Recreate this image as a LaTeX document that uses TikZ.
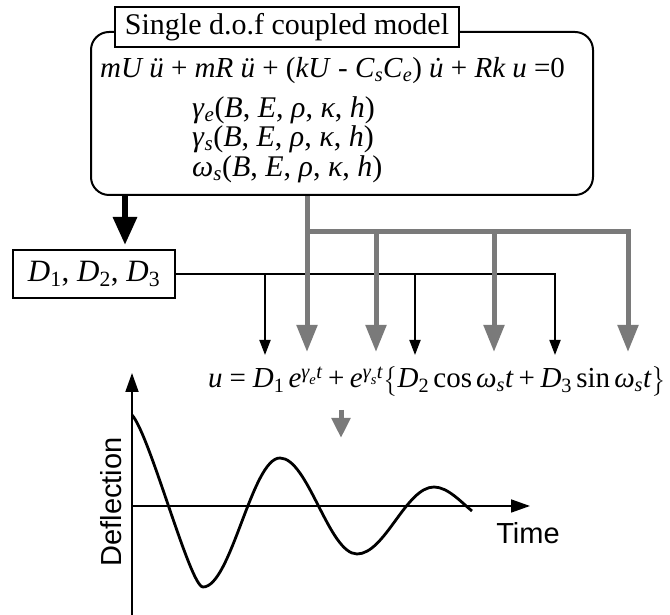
\documentclass[tikz,border=0pt]{standalone}
\usepackage{amsmath}
\usepackage{fontspec}
\setmainfont{Liberation Serif}
\setsansfont{Liberation Sans}
\usetikzlibrary{arrows.meta}
\newcommand{\mi}[1]{\text{\itshape #1}}
\newcommand{\mup}[1]{\text{\upshape #1}}
\newcommand{\sub}[1]{\textsubscript{\itshape #1}}
\begin{document}
\begin{tikzpicture}[x=1pt,y=1pt,
  box/.style={draw, line width=2pt, inner sep=0pt},
  txt/.style={anchor=base west, inner sep=0pt, font=\fontsize{29}{34}\selectfont},
  gtxt/.style={anchor=base west, inner sep=0pt, font=\fontsize{30}{34}\selectfont},
  blk/.style={line width=1.8pt, -{Triangle[length=15pt,width=11pt]}},
  bigarrow/.style={line width=6pt, -{Triangle[length=28pt,width=23pt]}},
  gry/.style={draw=black!52, line width=5pt},
  gryarrow/.style={gry, -{Triangle[length=27pt,width=20pt]}},
  smallgry/.style={gry, -{Triangle[length=20pt,width=18pt]}},
  axis/.style={line width=1.8pt, -{Triangle[length=19pt,width=13pt]}}]
\useasboundingbox (0,0) rectangle (670,615);

% model box and title
\node[box, rounded corners=18pt, minimum width=502pt, minimum height=163pt] (model) at (342,501.5) {};
\node[box, fill=white, minimum width=344pt, minimum height=40pt, font=\fontsize{30}{36}\selectfont] (title) at (287,588) {Single d.o.f coupled model};

\node[txt] (eq1) at (100,537) {\textit{mU ü} + \textit{mR ü} + (\textit{kU} - \textit{C}\sub{s}\textit{C}\sub{e}) {\itshape\accent"02D9 u} + \textit{Rk u} =0};
\node[gtxt] (ge) at (192,497) {\textit{γ}\sub{e}(\textit{B}, \textit{E}, \textit{ρ}, \textit{κ}, \textit{h})};
\node[gtxt] (gs) at (192,468) {\textit{γ}\sub{s}(\textit{B}, \textit{E}, \textit{ρ}, \textit{κ}, \textit{h})};
\node[gtxt] (ws) at (192,438) {\textit{ω}\sub{s}(\textit{B}, \textit{E}, \textit{ρ}, \textit{κ}, \textit{h})};

% D box
\node[box, minimum width=162pt, minimum height=48pt, font=\fontsize{31}{36}\selectfont] (dbox) at (94,341) {\textit{D}\textsubscript{1}, \textit{D}\textsubscript{2}, \textit{D}\textsubscript{3}};

% solution
\node[txt] (eq2) at (208,227) {$\mi{u}\mathrel{\mup{=}}\mi{D}_{\mup{1}}\,\mi{e}^{\mi{γ}_{\mi{e}}\mi{t}}\mathbin{\mup{+}}\mi{e}^{\mi{γ}_{\mi{s}}\mi{t}}\bigl\{\mi{D}_{\mup{2}}\,\mup{cos}\,\mi{ω}_{\mi{s}}\mi{t}\mathbin{\mup{+}}\mi{D}_{\mup{3}}\,\mup{sin}\,\mi{ω}_{\mi{s}}\mi{t}\bigr\}$};

% coordinates
\coordinate (kA) at (125,370);
\coordinate (b1) at (265,260);
\coordinate (b2) at (415,260);
\coordinate (b3) at (555,260);
\coordinate (g1) at (307,263);
\coordinate (g2) at (376,263);
\coordinate (g3) at (494,263);
\coordinate (g4) at (628,263);
\coordinate (gh) at (0,383);
\coordinate (s1) at (341,205);
\coordinate (s2) at (341,177);

% connectors
\draw[bigarrow] (model.south -| kA) -- (kA);
\draw[blk] (dbox.east) -- (dbox.east -| b3) -- (b3);
\draw[blk] (dbox.east -| b1) -- (b1);
\draw[blk] (dbox.east -| b2) -- (b2);
\draw[gryarrow] (model.south -| g1) -- (g1);
\draw[gryarrow] (g1 |- gh) -- (g4 |- gh) -- (g4);
\draw[gryarrow] (g2 |- gh) -- (g2);
\draw[gryarrow] (g3 |- gh) -- (g3);
\draw[smallgry] (s1) -- (s2);

% graph
\coordinate (ybot) at (132,0);
\coordinate (ytop) at (132,242);
\coordinate (O) at (132,109);
\coordinate (xend) at (530,109);
\draw[axis] (ybot) -- (ytop);
\draw[axis] (O) -- (xend);
\draw[line width=2.8pt] (132,200) .. controls (150,180) and (190,28) .. (203,28)
  .. controls (231,28) and (252,157) .. (280,157)
  .. controls (308,157) and (329,61) .. (357,61)
  .. controls (385,61) and (406,128) .. (434,128)
  .. controls (448,128) and (462,112) .. (472,104);
\node[font=\sffamily\fontsize{29}{34}\selectfont, inner sep=0pt] (time) at (528,81.5) {Time};
\node[font=\sffamily\fontsize{29}{34}\selectfont, inner sep=0pt, rotate=90] (defl) at (111,113) {Deflection};
\end{tikzpicture}
\end{document}
